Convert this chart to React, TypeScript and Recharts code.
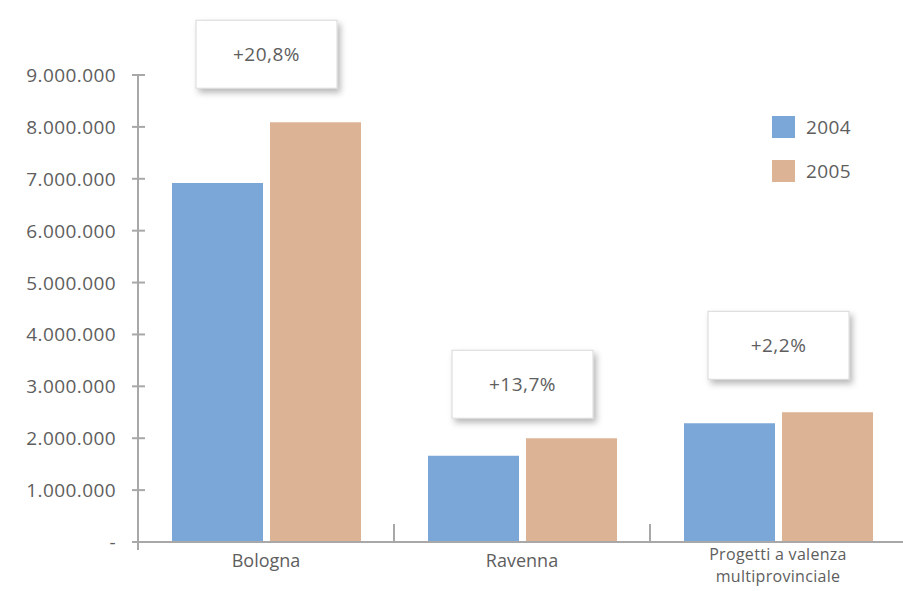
import { BarChart, Bar, XAxis, YAxis, LabelList } from 'recharts';

const categories = ['Bologna', 'Ravenna', 'Progetti a valenza\nmultiprovinciale'];
const values2004 = [6920000, 1660000, 2290000];
const values2005 = [8090000, 2000000, 2500000];
const changes = ['+20,8%', '+13,7%', '+2,2%'];
const yTicks = [0, 1000000, 2000000, 3000000, 4000000, 5000000, 6000000, 7000000, 8000000, 9000000];
const seriesNames = ['2004', '2005'];

const BLUE = '#7ba6d8';
const TAN = '#dcb394';
const AXIS = '#a8a8a8';
const TEXT = '#5e5e5e';
const FONT = '"Open Sans", "DejaVu Sans", sans-serif';

const CHART_W = 906;
const CHART_H = 591;
const LEFT = 138;
const BAND = (CHART_W - LEFT) / categories.length;
const BAR_GAP = 7;
// how far each annotation box floats above the taller bar
const BOX_LIFT = [34, 20, 33];

const data = categories.map((name, i) => ({
  name,
  y2004: values2004[i],
  y2005: values2005[i],
  change: changes[i],
}));

const fmt = (v: number) => (v === 0 ? '-' : String(v).replace(/\B(?=(\d{3})+(?!\d))/g, '.'));

const YTick = ({ x, y, payload }: any) => (
  <g>
    <line x1={x - 6} x2={x + 7} y1={y} y2={y} stroke={AXIS} strokeWidth={2} />
    {payload.value === 0 && <line x1={x} x2={x} y1={y} y2={y + 8} stroke={AXIS} strokeWidth={2} />}
    <text
      x={x - 22}
      y={y}
      textAnchor="end"
      dominantBaseline="central"
      fill={TEXT}
      fontSize={19}
      fontFamily={FONT}
      letterSpacing={0.4}
    >
      {fmt(payload.value)}
    </text>
  </g>
);

const XTick = ({ x, y, payload, index }: any) => {
  const lines = String(payload.value).split('\n');
  const multi = lines.length > 1;
  return (
    <g>
      {index < categories.length - 1 && (
        <line x1={x + BAND / 2} x2={x + BAND / 2} y1={y - 18} y2={y} stroke={AXIS} strokeWidth={2} />
      )}
      {lines.map((l, i) => (
        <text
          key={i}
          x={x}
          y={multi ? y + 18 + i * 22 : y + 25}
          textAnchor="middle"
          fill={TEXT}
          fontSize={multi ? 16 : 18}
          fontFamily={FONT}
          letterSpacing={multi ? 0.3 : 0}
        >
          {l}
        </text>
      ))}
    </g>
  );
};

const ChangeBox = (props: any) => {
  const { x, y, index, value } = props;
  const cx = x - BAR_GAP / 2;
  const bottom = y - BOX_LIFT[index];
  const w = 141;
  const h = 68;
  const id = `shadow${index}`;
  return (
    <g>
      <defs>
        <filter id={id} x="-20%" y="-20%" width="150%" height="160%">
          <feDropShadow dx={3} dy={4} stdDeviation={3} floodColor="#000" floodOpacity={0.28} />
        </filter>
      </defs>
      <rect x={cx - w / 2} y={bottom - h} width={w} height={h} fill="#fff" stroke="#d8d8d8" filter={`url(#${id})`} />
      <text
        x={cx}
        y={bottom - h / 2}
        textAnchor="middle"
        dominantBaseline="central"
        fill={TEXT}
        fontSize={19}
        fontFamily={FONT}
        letterSpacing={0.5}
      >
        {value}
      </text>
    </g>
  );
};

export default function App() {
  return (
    <div style={{ position: 'absolute', left: 0, top: 0, width: 903, height: CHART_H, overflow: 'hidden', background: '#fff' }}>
      <BarChart
        width={CHART_W}
        height={CHART_H}
        data={data}
        margin={{ top: 75, right: 0, bottom: 0, left: 0 }}
        barGap={BAR_GAP}
      >
        <XAxis
          dataKey="name"
          height={49}
          axisLine={{ stroke: AXIS, strokeWidth: 2 }}
          tickLine={false}
          tickSize={0}
          tickMargin={0}
          interval={0}
          tick={<XTick />}
        />
        <YAxis
          width={LEFT}
          domain={[0, 9000000]}
          ticks={yTicks}
          axisLine={{ stroke: AXIS, strokeWidth: 2 }}
          tickLine={false}
          tickSize={0}
          tickMargin={0}
          tick={<YTick />}
        />
        <Bar dataKey="y2004" fill={BLUE} barSize={91} isAnimationActive={false} />
        <Bar dataKey="y2005" fill={TAN} barSize={91} isAnimationActive={false}>
          <LabelList dataKey="change" content={<ChangeBox />} />
        </Bar>
      </BarChart>
      <div style={{ position: 'absolute', left: 772, top: 116, fontFamily: FONT, fontSize: 19, color: TEXT }}>
        {seriesNames.map((s, i) => (
          <div key={s} style={{ display: 'flex', alignItems: 'center', height: 22, marginBottom: 22 }}>
            <div style={{ width: 23, height: 22, background: i === 0 ? BLUE : TAN }} />
            <span style={{ marginLeft: 11, letterSpacing: 0.4 }}>{s}</span>
          </div>
        ))}
      </div>
    </div>
  );
}
